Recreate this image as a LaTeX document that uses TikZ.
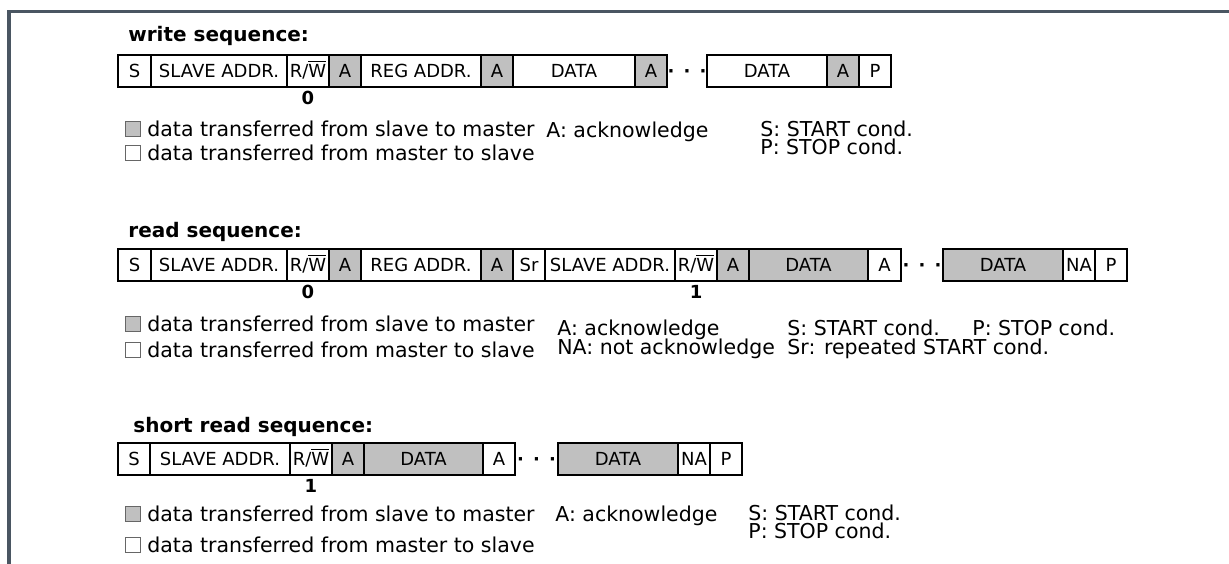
\documentclass[tikz,border=0pt]{standalone}
\usepackage{fontspec}
\setmainfont{DejaVu Sans}
\usetikzlibrary{positioning}
\definecolor{ackgray}{RGB}{192,192,192}
\definecolor{framecol}{RGB}{74,86,98}
\def\px{0.5pt}
\def\rowh{32}
\def\dotsgap{·\hspace{4.6pt}·\hspace{4.6pt}·}
\def\rw{R/$\overline{\mbox{W}}$}

\begin{document}
\begin{tikzpicture}[x=0.5pt, y=-0.5pt,
% cells of the frames, grey ones are sent by the slave
cell/.style={
rectangle, draw=black, line width=0.55pt,
inner sep=0, outer sep=0,
minimum height=\rowh*\px,
text height=6.6pt, text depth=0pt,
font=\fontsize{9}{10}\selectfont },
slave/.style={
cell, fill=ackgray },
cw/.style={
minimum width=#1*\px },
gap/.style={
rectangle, inner sep=0, outer sep=0,
minimum height=\rowh*\px,
text height=6.6pt, text depth=0pt,
font=\bfseries\fontsize{9}{10}\selectfont },
bit/.style={
inner sep=0, font=\bfseries\fontsize{9}{10}\selectfont },
title/.style={
anchor=base west, inner sep=0,
font=\bfseries\fontsize{10}{12}\selectfont },
legend/.style={
anchor=base west, inner sep=0,
font=\fontsize{10.25}{12}\selectfont },
key/.style={
rectangle, draw=black!60, line width=0.5pt,
minimum size=15*\px, inner sep=0 },
node distance=0pt,
]
\useasboundingbox (0,0) rectangle (1229,563);

%%%%%%%%%%%%%%%%%%%%%%%%
%%% THE FRAME
%%%%%%%%%%%%%%%%%%%%%%%%
\begin{scope}
\clip (0,0) rectangle (1229,563);
\draw[framecol, line width=1.7pt] (9,580) |- (1240,11.5);
\end{scope}

%%%%%%%%%%%%%%%%%%%%%%%%
%%% WRITE SEQUENCE
%%%%%%%%%%%%%%%%%%%%%%%%
\node[title] (wtitle) at (128,41) {write sequence:};

\node[cell, cw=33, anchor=west] (w1) at (118,71) {S};
\node[cell, cw=136, right=of w1] (w2) {SLAVE ADDR.};
\node[cell, cw=42, right=of w2] (w3) {\rw};
\node[slave, cw=32, right=of w3] (w4) {A};
\node[cell, cw=120, right=of w4] (w5) {REG ADDR.};
\node[slave, cw=32, right=of w5] (w6) {A};
\node[cell, cw=122, right=of w6] (w7) {DATA};
\node[slave, cw=32, right=of w7] (w8) {A};
\node[gap, cw=40, right=of w8] (w9) {\dotsgap};
\node[cell, cw=120, right=of w9] (w10) {DATA};
\node[slave, cw=32, right=of w10] (w11) {A};
\node[cell, cw=32, right=of w11] (w12) {P};
\node[bit, below=2pt of w3] (wbit) {0};

% legend
\node[key, fill=ackgray] (wk1) at (132.5,129) {};
\node[legend] (wl1) at (147,136) {data transferred from slave to master};
\node[key, fill=white] (wk2) at (132.5,153) {};
\node[legend] (wl2) at (147,160) {data transferred from master to slave};
\node[legend] (wack) at (546,137) {A: acknowledge};
\node[legend] (wstart) at (760,136) {S: START cond.};
\node[legend] (wstop) at (760,154) {P: STOP cond.};

%%%%%%%%%%%%%%%%%%%%%%%%
%%% READ SEQUENCE
%%%%%%%%%%%%%%%%%%%%%%%%
\node[title] (rtitle) at (128,237) {read sequence:};

\node[cell, cw=33, anchor=west] (r1) at (118,265) {S};
\node[cell, cw=136, right=of r1] (r2) {SLAVE ADDR.};
\node[cell, cw=42, right=of r2] (r3) {\rw};
\node[slave, cw=32, right=of r3] (r4) {A};
\node[cell, cw=120, right=of r4] (r5) {REG ADDR.};
\node[slave, cw=32, right=of r5] (r6) {A};
\node[cell, cw=32, right=of r6] (r7) {Sr};
\node[cell, cw=130, right=of r7] (r8) {SLAVE ADDR.};
\node[cell, cw=42, right=of r8] (r9) {\rw};
\node[slave, cw=32, right=of r9] (r10) {A};
\node[slave, cw=119, right=of r10] (r11) {DATA};
\node[cell, cw=33, right=of r11] (r12) {A};
\node[gap, cw=42, right=of r12] (r13) {\dotsgap};
\node[slave, cw=120, right=of r13] (r14) {DATA};
\node[cell, cw=32, right=of r14] (r15) {NA};
\node[cell, cw=32, right=of r15] (r16) {P};
\node[bit, below=2pt of r3] (rbit1) {0};
\node[bit, below=2pt of r9] (rbit2) {1};

% legend
\node[key, fill=ackgray] (rk1) at (132.5,324) {};
\node[legend] (rl1) at (147,331) {data transferred from slave to master};
\node[key, fill=white] (rk2) at (132.5,350) {};
\node[legend] (rl2) at (147,357) {data transferred from master to slave};
\node[legend] (rack) at (557,335) {A: acknowledge};
\node[legend] (rnack) at (557,354) {NA: not acknowledge};
\node[legend] (rstart) at (787,335) {S: START cond.};
\node[legend] (rstop) at (972,335) {P: STOP cond.};
\node[legend] (rrep) at (787,354) {Sr: repeated START cond.};

%%%%%%%%%%%%%%%%%%%%%%%%
%%% SHORT READ SEQUENCE
%%%%%%%%%%%%%%%%%%%%%%%%
\node[title] (stitle) at (133,432) {short read sequence:};

\node[cell, cw=32, anchor=west] (s1) at (118,459) {S};
\node[cell, cw=140, right=of s1] (s2) {SLAVE ADDR.};
\node[cell, cw=42, right=of s2] (s3) {\rw};
\node[slave, cw=32, right=of s3] (s4) {A};
\node[slave, cw=119, right=of s4] (s5) {DATA};
\node[cell, cw=32, right=of s5] (s6) {A};
\node[gap, cw=43, right=of s6] (s7) {\dotsgap};
\node[slave, cw=120, right=of s7] (s8) {DATA};
\node[cell, cw=32, right=of s8] (s9) {NA};
\node[cell, cw=32, right=of s9] (s10) {P};
\node[bit, below=2pt of s3] (sbit) {1};

% legend
\node[key, fill=ackgray] (sk1) at (132.5,514) {};
\node[legend] (sl1) at (147,521) {data transferred from slave to master};
\node[key, fill=white] (sk2) at (132.5,545) {};
\node[legend] (sl2) at (147,552) {data transferred from master to slave};
\node[legend] (sack) at (555,521) {A: acknowledge};
\node[legend] (sstart) at (748,520) {S: START cond.};
\node[legend] (sstop) at (748,538) {P: STOP cond.};

\end{tikzpicture}
\end{document}
